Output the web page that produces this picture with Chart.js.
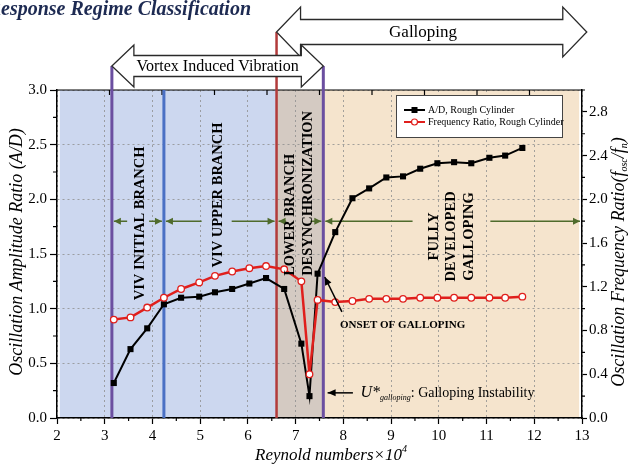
<!DOCTYPE html>
<html>
<head>
<meta charset="utf-8">
<script src="https://cdn.jsdelivr.net/npm/chart.js@4.4.0/dist/chart.umd.min.js"></script>
<style>
  html, body { margin: 0; padding: 0; background: #fff; }
  #wrap { width: 632px; height: 464px; }
</style>
</head>
<body>
<div id="wrap"><canvas id="c" width="632" height="464"></canvas></div>
<script>
// values (Reynolds number x 10^4)
const reynolds = [3.19, 3.54, 3.89, 4.24, 4.60, 4.98, 5.31, 5.67, 6.03, 6.38, 6.76, 7.12, 7.29,
                  7.46, 7.83, 8.19, 8.54, 8.90, 9.25, 9.61, 9.97, 10.32, 10.68, 11.06, 11.39, 11.75];
const ampRatio = [0.32, 0.63, 0.82, 1.04, 1.10, 1.11, 1.15, 1.18, 1.23, 1.28, 1.18, 0.68, 0.20,
                  1.32, 1.70, 2.01, 2.10, 2.20, 2.21, 2.28, 2.33, 2.34, 2.33, 2.38, 2.40, 2.47];
const freqRatio = [0.90, 0.92, 1.01, 1.10, 1.18, 1.24, 1.30, 1.34, 1.37, 1.39, 1.36, 1.25, 0.40,
                   1.08, 1.06, 1.07, 1.09, 1.09, 1.09, 1.10, 1.10, 1.10, 1.10, 1.10, 1.10, 1.11];
const seriesNames = ['A/D, Rough Cylinder', 'Frequency Ratio, Rough Cylinder'];

// regime boundaries
const bands = [
  { from: 2.06, to: 6.6, color: '#ccd7ef' },
  { from: 6.6, to: 7.58, color: '#d4cac2' },
  { from: 7.58, to: 12.94, color: '#f5e4cd' }
];
const bounds = [
  { x: 3.15, color: '#6b4fa0', top: 'viv' },
  { x: 4.24, color: '#4a70c4', top: null },
  { x: 6.6, color: '#b23b3b', top: 'gal' },
  { x: 7.58, color: '#6b4fa0', top: 'viv' }
];
// branch labels (rotated)
const branchLabels = [
  { lines: ['VIV INITIAL BRANCH'], x: 3.74, y: 1.78, align: 'center' },
  { lines: ['VIV UPPER BRANCH'], x: 5.38, y: 2.04, align: 'center' },
  { lines: ['LOWER BRANCH', 'DESYNCHRONIZATION'], x: 7.08, y: 1.30, align: 'left' },
  { lines: ['FULLY', 'DEVELOPED', 'GALLOPING'], x: 10.27, y: 1.66, align: 'center' }
];
// green range arrows at A/D = 1.8 ; gap where the label crosses
const rangeArrows = [
  { from: 3.15, to: 4.24, gap: [3.47, 3.93] },
  { from: 4.24, to: 6.6, gap: [5.03, 5.66] },
  { from: 6.6, to: 7.58, gap: [6.80, 7.31] },
  { from: 7.58, to: 13, gap: [9.45, 11.08] }
];
const rangeLevel = 1.8;

Chart.defaults.font.family = "'Liberation Serif', 'DejaVu Serif', serif";
Chart.defaults.color = '#000';

function arrowHead(ctx, x, y, ang, len, half) {
  ctx.beginPath();
  ctx.moveTo(x, y);
  ctx.lineTo(x - len * Math.cos(ang) + half * Math.sin(ang), y - len * Math.sin(ang) - half * Math.cos(ang));
  ctx.lineTo(x - len * Math.cos(ang) - half * Math.sin(ang), y - len * Math.sin(ang) + half * Math.cos(ang));
  ctx.closePath();
  ctx.fill();
}

function bigArrow(ctx, x0, x1, yc, headLen, headHalf, shaftHalf) {
  ctx.beginPath();
  ctx.moveTo(x0, yc);
  ctx.lineTo(x0 + headLen, yc - headHalf);
  ctx.lineTo(x0 + headLen, yc - shaftHalf);
  ctx.lineTo(x1 - headLen, yc - shaftHalf);
  ctx.lineTo(x1 - headLen, yc - headHalf);
  ctx.lineTo(x1, yc);
  ctx.lineTo(x1 - headLen, yc + headHalf);
  ctx.lineTo(x1 - headLen, yc + shaftHalf);
  ctx.lineTo(x0 + headLen, yc + shaftHalf);
  ctx.lineTo(x0 + headLen, yc + headHalf);
  ctx.closePath();
  ctx.fillStyle = '#fff';
  ctx.fill();
  ctx.lineWidth = 1.3;
  ctx.strokeStyle = '#2a2a2a';
  ctx.stroke();
}

const decor = {
  id: 'decor',
  beforeDraw(chart) {
    const { ctx, chartArea: a, scales } = chart;
    ctx.save();
    bands.forEach(b => {
      const x0 = scales.x.getPixelForValue(b.from), x1 = scales.x.getPixelForValue(b.to);
      ctx.fillStyle = b.color;
      ctx.fillRect(x0, a.top, x1 - x0, a.bottom - a.top);
    });
    ctx.restore();
  },
  beforeDatasetsDraw(chart) {
    const { ctx, chartArea: a, scales } = chart;
    const X = v => scales.x.getPixelForValue(v), Y = v => scales.y.getPixelForValue(v);
    ctx.save();
    // top frame + inner ticks
    ctx.strokeStyle = '#000';
    ctx.lineWidth = 1.2;
    ctx.beginPath();
    ctx.moveTo(a.left, a.top); ctx.lineTo(a.right, a.top);
    for (let k = 1; k < 10; k++) {
      const tx = a.left + (a.right - a.left) * k / 10;
      ctx.moveTo(tx, a.top); ctx.lineTo(tx, a.top + 5);
    }
    // minor ticks
    for (let v = 2.5; v < 13; v += 1) { ctx.moveTo(X(v), a.bottom); ctx.lineTo(X(v), a.bottom + 3); }
    for (let v = 0.25; v < 3; v += 0.5) { ctx.moveTo(a.left, Y(v)); ctx.lineTo(a.left - 4, Y(v)); }
    const Y2 = v => scales.y2.getPixelForValue(v);
    for (let v = 0.2; v < 3; v += 0.4) { ctx.moveTo(a.right, Y2(v)); ctx.lineTo(a.right + 3, Y2(v)); }
    ctx.stroke();

    // regime boundary lines
    bounds.forEach(b => {
      const top = b.top === 'viv' ? a.top - 24 : b.top === 'gal' ? a.top - 58 : a.top;
      ctx.strokeStyle = b.color;
      ctx.lineWidth = b.top === 'gal' ? 2.5 : 3;
      ctx.beginPath();
      ctx.moveTo(X(b.x), top); ctx.lineTo(X(b.x), a.bottom);
      ctx.stroke();
    });

    // green range arrows
    ctx.strokeStyle = '#4f6b2c';
    ctx.fillStyle = '#4f6b2c';
    ctx.lineWidth = 1.6;
    const gy = Y(rangeLevel);
    rangeArrows.forEach(r => {
      const x0 = X(r.from) + 2, x1 = X(r.to) - 2;
      ctx.beginPath();
      ctx.moveTo(x0, gy); ctx.lineTo(X(r.gap[0]), gy);
      ctx.moveTo(X(r.gap[1]), gy); ctx.lineTo(x1, gy);
      ctx.stroke();
      arrowHead(ctx, x0, gy, Math.PI, 7, 3.5);
      arrowHead(ctx, x1, gy, 0, 7, 3.5);
    });
    ctx.restore();
  },
  afterDatasetsDraw(chart) {
    const { ctx, scales } = chart;
    const X = v => scales.x.getPixelForValue(v), Y = v => scales.y.getPixelForValue(v);
    ctx.save();
    // branch labels
    ctx.fillStyle = '#000';
    ctx.font = "bold 14.5px 'Liberation Serif'";
    ctx.textBaseline = 'middle';
    branchLabels.forEach(l => {
      const n = l.lines.length;
      l.lines.forEach((t, i) => {
        ctx.save();
        ctx.translate(X(l.x) + (i - (n - 1) / 2) * 17.5, Y(l.y));
        ctx.rotate(-Math.PI / 2);
        ctx.textAlign = l.align;
        ctx.fillText(t, 0, 0);
        ctx.restore();
      });
    });
    ctx.restore();
  },
  afterDraw(chart) {
    const { ctx, chartArea: a, scales } = chart;
    const X = v => scales.x.getPixelForValue(v), Y = v => scales.y.getPixelForValue(v);
    ctx.save();

    // big regime arrows above the plot
    const galY = a.top - 58, vivY = a.top - 24;
    bigArrow(ctx, X(6.6), X(13.1), galY, 24, 25, 12.5);
    bigArrow(ctx, X(3.15), X(7.58), vivY, 22, 21, 10.5);
    ctx.fillStyle = '#000';
    ctx.textBaseline = 'middle';
    ctx.textAlign = 'center';
    ctx.font = "17px 'Liberation Serif'";
    ctx.fillText('Galloping', X(9.67), galY + 1);
    ctx.font = "16px 'Liberation Serif'";
    ctx.fillText('Vortex Induced Vibration', (X(3.15) + X(7.58)) / 2, vivY + 1);

    // figure title, partly cut at the left edge
    ctx.font = "bold italic 20px 'Liberation Serif'";
    ctx.fillStyle = '#1d2a52';
    ctx.textAlign = 'left';
    ctx.textBaseline = 'alphabetic';
    const rW = ctx.measureText('R').width;
    ctx.fillText('Response Regime Classification', -rW + 1, 15);

    // onset of galloping annotation
    ctx.fillStyle = '#000';
    ctx.strokeStyle = '#000';
    ctx.lineWidth = 1.5;
    ctx.beginPath();
    const ox0 = X(7.97), oy0 = Y(0.97), ox1 = X(7.61), oy1 = Y(1.29);
    ctx.moveTo(ox0, oy0); ctx.lineTo(ox1, oy1);
    ctx.stroke();
    arrowHead(ctx, ox1, oy1, Math.atan2(oy1 - oy0, ox1 - ox0), 8, 3.5);
    ctx.font = "bold 11px 'Liberation Serif'";
    ctx.textBaseline = 'middle';
    ctx.fillText('ONSET OF GALLOPING', X(7.93), Y(0.85));

    // galloping instability annotation
    const uy = Y(0.23);
    ctx.beginPath();
    ctx.moveTo(X(8.2), uy); ctx.lineTo(X(7.67), uy);
    ctx.stroke();
    arrowHead(ctx, X(7.67), uy, Math.PI, 8, 3.5);
    let tx = X(8.36);
    ctx.font = "italic 16px 'Liberation Serif'";
    ctx.fillText('U*', tx, uy);
    tx += ctx.measureText('U*').width;
    ctx.font = "italic 8px 'Liberation Serif'";
    ctx.fillText('galloping', tx, uy + 5);
    tx += ctx.measureText('galloping').width;
    ctx.font = "14px 'Liberation Serif'";
    ctx.fillText(': Galloping Instability', tx, uy);

    // legend
    const lx = a.right - 186, ly = a.top + 5, lw = 166, lh = 42;
    ctx.fillStyle = '#fff';
    ctx.fillRect(lx, ly, lw, lh);
    ctx.strokeStyle = '#444';
    ctx.lineWidth = 1;
    ctx.strokeRect(lx + 0.5, ly + 0.5, lw, lh);
    chart.data.datasets.forEach((ds, i) => {
      const ey = ly + 15 + i * 12;
      ctx.strokeStyle = ds.borderColor;
      ctx.lineWidth = 2;
      ctx.beginPath();
      ctx.moveTo(lx + 8, ey); ctx.lineTo(lx + 29, ey);
      ctx.stroke();
      if (ds.pointStyle === 'rect') {
        ctx.fillStyle = ds.backgroundColor;
        ctx.fillRect(lx + 15.5, ey - 3, 6, 6);
      } else {
        ctx.fillStyle = '#fff';
        ctx.lineWidth = 1.2;
        ctx.beginPath();
        ctx.arc(lx + 18.5, ey, 3, 0, Math.PI * 2);
        ctx.fill(); ctx.stroke();
      }
      ctx.fillStyle = '#000';
      ctx.font = "10px 'Liberation Serif'";
      ctx.textBaseline = 'middle';
      ctx.fillText(ds.label, lx + 32, ey);
    });

    // axis titles
    ctx.fillStyle = '#000';
    ctx.font = "italic 18px 'Liberation Serif'";
    ctx.textAlign = 'center';
    ctx.save();
    ctx.translate(17, (a.top + a.bottom) / 2 - 2);
    ctx.rotate(-Math.PI / 2);
    ctx.fillText('Oscillation Amplitude Ratio (A/D)', 0, 0);
    ctx.restore();

    // right title with subscripts
    const parts = [
      ['Oscillation Frequency Ratio(', 18, 0],
      ['f', 18, 0],
      ['osc', 10, 5],
      ['/', 18, 0],
      ['f', 18, 0],
      ['n', 10, 5],
      [')', 18, 0]
    ];
    ctx.save();
    ctx.translate(619, (a.top + a.bottom) / 2 + 8);
    ctx.rotate(-Math.PI / 2);
    let total = 0;
    parts.forEach(p => { ctx.font = 'italic ' + p[1] + "px 'Liberation Serif'"; total += ctx.measureText(p[0]).width; });
    let px = -total / 2;
    ctx.textAlign = 'left';
    parts.forEach(p => {
      ctx.font = 'italic ' + p[1] + "px 'Liberation Serif'";
      ctx.fillText(p[0], px, p[2]);
      px += ctx.measureText(p[0]).width;
    });
    ctx.restore();

    // bottom title with superscript
    ctx.textAlign = 'left';
    ctx.font = "italic 17px 'Liberation Serif'";
    const bt = 'Reynold numbers\u00d710';
    const bw = ctx.measureText(bt).width;
    ctx.font = "italic 10px 'Liberation Serif'";
    const sw = ctx.measureText('4').width;
    const bx = 331 - (bw + sw) / 2, by = 456;
    ctx.font = "italic 17px 'Liberation Serif'";
    ctx.fillText(bt, bx, by);
    ctx.font = "italic 10px 'Liberation Serif'";
    ctx.fillText('4', bx + bw, by - 7);
    ctx.restore();
  }
};

const fmt1 = v => Number(v).toFixed(1);

new Chart(document.getElementById('c'), {
  type: 'line',
  data: {
    datasets: [
      {
        label: seriesNames[0],
        data: reynolds.map((r, i) => ({ x: r, y: ampRatio[i] })),
        yAxisID: 'y',
        borderColor: '#000',
        backgroundColor: '#000',
        borderWidth: 2,
        pointStyle: 'rect',
        pointRadius: 4.3,
        pointBorderWidth: 0,
        tension: 0,
        order: 2
      },
      {
        label: seriesNames[1],
        data: reynolds.map((r, i) => ({ x: r, y: freqRatio[i] })),
        yAxisID: 'y2',
        borderColor: '#e01f1c',
        backgroundColor: '#fff',
        borderWidth: 2.5,
        pointStyle: 'circle',
        pointRadius: 3.3,
        pointBackgroundColor: '#fff',
        pointBorderColor: '#e01f1c',
        pointBorderWidth: 1.3,
        tension: 0,
        order: 1
      }
    ]
  },
  options: {
    responsive: false,
    animation: false,
    events: [],
    layout: { padding: { top: 90, left: 0, right: 0, bottom: 0 } },
    plugins: { legend: { display: false }, tooltip: { enabled: false } },
    scales: {
      x: {
        type: 'linear', position: 'bottom', min: 2, max: 13,
        afterFit: s => { s.height = 46; },
        ticks: { stepSize: 1, font: { size: 15 }, padding: 3, maxRotation: 0, autoSkip: false },
        grid: { color: '#8e8e8e', lineWidth: 0.8, tickColor: '#000', tickLength: 6, tickWidth: 1.2 },
        border: { color: '#000', width: 1.5, dash: [2, 3] }
      },
      y: {
        type: 'linear', position: 'left', min: 0, max: 3,
        afterFit: s => { s.width = 57; },
        ticks: { stepSize: 0.5, font: { size: 15 }, padding: 3, callback: fmt1 },
        grid: { color: '#8e8e8e', lineWidth: 0.8, tickColor: '#000', tickLength: 7, tickWidth: 1.2 },
        border: { color: '#000', width: 1.5, dash: [2, 3] }
      },
      y2: {
        type: 'linear', position: 'right', min: 0, max: 3,
        afterFit: s => { s.width = 50; },
        ticks: { stepSize: 0.4, includeBounds: false, font: { size: 15 }, padding: 2, callback: fmt1 },
        grid: { drawOnChartArea: false, tickColor: '#000', tickLength: 5, tickWidth: 1.2 },
        border: { color: '#000', width: 1.5 }
      }
    }
  },
  plugins: [decor]
});
</script>
</body>
</html>
